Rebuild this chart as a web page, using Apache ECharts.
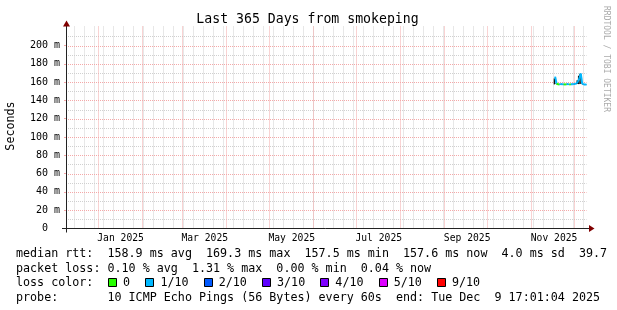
<!DOCTYPE html>
<html><head><meta charset="utf-8">
<script src="https://cdn.jsdelivr.net/npm/echarts@6/dist/echarts.min.js"></script>
<style>html,body{margin:0;padding:0;background:#fff}#c{width:617px;height:310px}</style>
</head><body><div id="c"></div>
<script>
// ---------- data ----------
const startTime = Date.UTC(2024, 11, 9, 17, 1, 4);
const endTime = Date.UTC(2025, 11, 9, 17, 1, 4);
const DAY = 86400000;

const yTickValues = [0, 20, 40, 60, 80, 100, 120, 140, 160, 180, 200];
const yMinorValues = [10, 30, 50, 70, 90, 110, 130, 150, 170, 190, 210];
const monthLabels = ['Jan 2025', 'Mar 2025', 'May 2025', 'Jul 2025', 'Sep 2025', 'Nov 2025'];
const monthLabelDates = ['2025-01-17', '2025-03-17', '2025-05-17', '2025-07-17', '2025-09-17', '2025-11-17'];

const sampleDates = ['2025-11-17','2025-11-18','2025-11-19','2025-11-20','2025-11-21','2025-11-22',
  '2025-11-23','2025-11-24','2025-11-25','2025-11-26','2025-11-27','2025-11-28','2025-11-29',
  '2025-11-30','2025-12-01','2025-12-02','2025-12-03','2025-12-04','2025-12-05','2025-12-06',
  '2025-12-07','2025-12-08','2025-12-09'];
const medianRtt = [166.0,158.2,157.6,157.5,157.8,157.6,157.7,157.5,157.6,157.8,157.5,157.6,157.7,
  157.9,157.8,158.6,160.5,164.0,169.3,158.1,157.7,157.0,157.6];
const smokeMin = [157.5,157.8,157.3,157.2,157.5,157.3,157.4,157.2,157.3,157.5,157.2,157.3,157.4,
  157.6,157.5,157.9,157.8,157.8,158.0,157.8,157.4,156.8,157.3];
const smokeMax = [164.0,158.6,157.9,157.8,158.1,157.9,158.0,157.8,157.9,158.1,157.8,157.9,158.0,
  158.2,158.1,159.0,162.0,167.0,169.0,158.4,158.0,157.4,157.9];
const lossTenths = [1,1,0,0,1,1,1,0,0,1,1,0,1,1,1,1,1,1,1,1,1,1,1];

const lossLevels = [0, 1, 2, 3, 4, 5, 9];
const lossLabels = ['0', '1/10', '2/10', '3/10', '4/10', '5/10', '9/10'];
const lossColors = ['#26ff00', '#00b8ff', '#0059ff', '#5e00ff', '#7e00ff', '#dd00ff', '#ff0000'];

const rttStats = ['158.9', '169.3', '157.5', '157.6', '4.0', '39.7'];
const lossStats = ['0.10', '1.31', '0.00', '0.04'];
const titleText = 'Last 365 Days from smokeping';
const probeText = '10 ICMP Echo Pings (56 Bytes) every 60s';
const endText = 'Tue Dec  9 17:01:04 2025';

// ---------- layout ----------
const X0 = 66, X1 = 586.5, Y0 = 228.5, YTOP = 28.5;
const MONO = '"DejaVu Sans Mono", "Liberation Mono", monospace';
const LEG = 11.7;
const RED_GRID = '#f4a8a8';
const GRAY_GRID = '#d0d0d0';

const sampleTimes = sampleDates.map(d => Date.parse(d + 'T17:00:00Z'));
const monthLabelTimes = monthLabelDates.map(d => Date.parse(d + 'T00:00:00Z'));

// grid line positions (calendar structure of the time axis)
const monthStarts = [];
for (let m = 0; m < 12; m++) monthStarts.push(Date.UTC(2025, m, 1));
const weekStarts = [];
for (let t = Date.UTC(2024, 11, 15); t < endTime; t += 7 * DAY) weekStarts.push(t);

function lossColor(l) {
  let idx = 0;
  for (let i = 0; i < lossLevels.length; i++) if (l >= lossLevels[i]) idx = i;
  return lossColors[idx];
}

function vGrid(color) {
  return function (params, api) {
    const x = Math.round(api.coord([api.value(0), 0])[0]) + 0.5;
    const cs = params.coordSys;
    return {type: 'line', shape: {x1: x, y1: cs.y - 2, x2: x, y2: cs.y + cs.height},
      style: {stroke: color, lineWidth: 1, lineDash: [1, 1]}, silent: true};
  };
}
function hGrid(color) {
  return function (params, api) {
    const y = Math.round(api.coord([startTime, api.value(0)])[1]) + 0.5;
    const cs = params.coordSys;
    return {type: 'line', shape: {x1: cs.x, y1: y, x2: cs.x + cs.width, y2: y},
      style: {stroke: color, lineWidth: 1, lineDash: [1, 1]}, silent: true};
  };
}

const smokeData = sampleTimes.map((t, i) => [t, smokeMin[i], smokeMax[i]]);
const medianData = sampleTimes.map((t, i) => [t, medianRtt[i], lossTenths[i],
  i > 0 ? sampleTimes[i - 1] : t, i > 0 ? medianRtt[i - 1] : medianRtt[i]]);

const graphic = [];
// axes
graphic.push({type: 'line', shape: {x1: X0 - 4, y1: Y0, x2: X1 + 3, y2: Y0}, style: {stroke: '#222', lineWidth: 1}, z: 100});
graphic.push({type: 'line', shape: {x1: X0 + 0.5, y1: Y0 + 4, x2: X0 + 0.5, y2: YTOP - 3}, style: {stroke: '#222', lineWidth: 1}, z: 100});
graphic.push({type: 'polygon', shape: {points: [[X1 + 2.5, Y0 - 3.5], [X1 + 2.5, Y0 + 3.5], [X1 + 8, Y0]]}, style: {fill: '#800000'}, z: 101});
graphic.push({type: 'polygon', shape: {points: [[X0 - 3, YTOP - 2], [X0 + 4, YTOP - 2], [X0 + 0.5, YTOP - 8]]}, style: {fill: '#800000'}, z: 101});
// title and side texts
graphic.push({type: 'text', x: 307.5, y: 19.5, style: {text: titleText, fontFamily: MONO, fontSize: 13.2, fill: '#000', align: 'center', verticalAlign: 'middle'}});
graphic.push({type: 'text', x: 11, y: 126, rotation: Math.PI / 2, style: {text: 'Seconds', fontFamily: MONO, fontSize: LEG, fill: '#000', align: 'center', verticalAlign: 'middle'}});
graphic.push({type: 'text', x: 606, y: 59, rotation: -Math.PI / 2, style: {text: 'RRDTOOL / TOBI OETIKER', fontFamily: MONO, fontSize: 8, fill: '#aaaaaa', align: 'center', verticalAlign: 'middle'}});
// legend rows
const row1 = 'median rtt:  ' + rttStats[0] + ' ms avg  ' + rttStats[1] + ' ms max  ' + rttStats[2] + ' ms min  ' +
  rttStats[3] + ' ms now  ' + rttStats[4] + ' ms sd  ' + rttStats[5];
const row2 = 'packet loss: ' + lossStats[0] + ' % avg  ' + lossStats[1] + ' % max  ' + lossStats[2] + ' % min  ' + lossStats[3] + ' % now';
const row4 = 'probe:       ' + probeText + '  end: ' + endText;
const rowY = [254, 268.5, 283, 297.5];
[row1, row2, null, row4].forEach((txt, i) => {
  if (txt) graphic.push({type: 'text', x: 16, y: rowY[i], style: {text: txt, fontFamily: MONO, fontSize: LEG, fill: '#000', verticalAlign: 'middle'}});
});
graphic.push({type: 'text', x: 16, y: rowY[2], style: {text: 'loss color:', fontFamily: MONO, fontSize: LEG, fill: '#000', verticalAlign: 'middle'}});
let bx = 108;
lossLabels.forEach((lab, i) => {
  graphic.push({type: 'rect', shape: {x: Math.round(bx) + 0.5, y: rowY[2] - 4.5, width: 8, height: 8},
    style: {fill: lossColors[i], stroke: '#000', lineWidth: 1}});
  graphic.push({type: 'text', x: bx + 15, y: rowY[2], style: {text: lab, fontFamily: MONO, fontSize: LEG, fill: '#000', verticalAlign: 'middle'}});
  bx += 30.5 + 6.95 * lab.length;
});

const option = {
  animation: false,
  backgroundColor: '#ffffff',
  grid: {left: X0, right: 617 - X1, top: YTOP, bottom: 310 - Y0, containLabel: false},
  xAxis: {
    type: 'value', min: startTime, max: endTime,
    axisLine: {show: false}, axisTick: {show: false}, splitLine: {show: false},
    axisLabel: {
      customValues: monthLabelTimes,
      formatter: v => { const i = monthLabelTimes.indexOf(v); return i >= 0 ? monthLabels[i] : ''; },
      fontFamily: MONO, fontSize: 9.7, color: '#000', margin: 5
    }
  },
  yAxis: {
    type: 'value', min: 0, max: 200 / (Y0 - 45.5) * (Y0 - YTOP), interval: 20,
    axisLine: {show: false},
    axisTick: {show: true, length: 2, lineStyle: {color: RED_GRID}},
    axisLabel: {
      showMaxLabel: false,
      formatter: v => yTickValues.indexOf(v) < 0 ? '' : (v === 0 ? '0  ' : v + ' m'),
      fontFamily: MONO, fontSize: 10, color: '#000', margin: 6
    },
    splitLine: {show: false}
  },
  series: [
    {type: 'custom', silent: true, data: weekStarts, encode: {x: 0}, renderItem: vGrid(GRAY_GRID), z: 1},
    {type: 'custom', silent: true, data: yMinorValues, encode: {y: 0}, renderItem: hGrid(GRAY_GRID), z: 1},
    {type: 'custom', silent: true, data: monthStarts, encode: {x: 0}, renderItem: vGrid(RED_GRID), z: 2},
    {type: 'custom', silent: true, data: yTickValues.slice(1), encode: {y: 0}, renderItem: hGrid(RED_GRID), z: 2},
    {
      type: 'custom', silent: true, data: smokeData, z: 3, encode: {x: 0, y: [1, 2]},
      renderItem: (params, api) => {
        const t = api.value(0);
        const a = api.coord([t - DAY, api.value(2)]);
        const b = api.coord([t, api.value(1)]);
        return {type: 'rect', shape: {x: a[0], y: a[1], width: b[0] - a[0], height: Math.max(b[1] - a[1], 0.5)},
          style: {fill: '#111111'}};
      }
    },
    {
      type: 'custom', silent: true, data: medianData, z: 4, encode: {x: 0, y: 1},
      renderItem: (params, api) => {
        const p1 = api.coord([api.value(3), api.value(4)]);
        const p2 = api.coord([api.value(0), api.value(1)]);
        return {type: 'line', shape: {x1: p1[0], y1: p1[1], x2: p2[0], y2: p2[1]},
          style: {stroke: lossColor(api.value(2)), lineWidth: 2, lineCap: 'butt'}};
      }
    }
  ],
  graphic: graphic
};

const chart = echarts.init(document.getElementById('c'));
chart.setOption(option);
</script>
</body></html>
